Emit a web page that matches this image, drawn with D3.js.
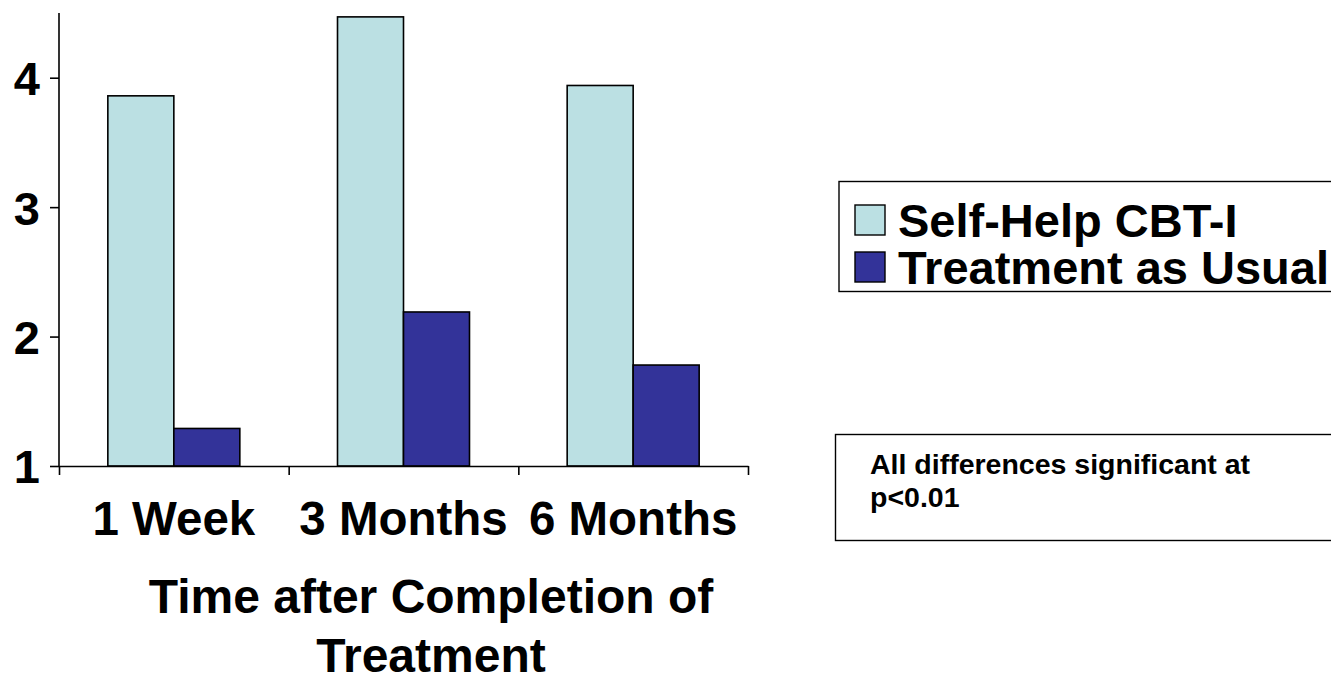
<!DOCTYPE html>
<html>
<head>
<meta charset="utf-8">
<script src="https://cdn.jsdelivr.net/npm/d3@7"></script>
<style>
  html, body { margin: 0; padding: 0; background: #fff; }
  svg { display: block; font-family: "Liberation Sans", Arial, sans-serif; font-weight: bold; }
</style>
</head>
<body>
<svg id="chart" width="1331" height="677"></svg>
<script>
// Follow-up time points and mean scores per group
const categories = ["1 Week", "3 Months", "6 Months"];
const seriesNames = ["Self-Help CBT-I", "Treatment as Usual"];
const selfHelpValues = [3.86, 4.47, 3.94];
const usualCareValues = [1.29, 2.19, 1.78];
const yTicks = [1, 2, 3, 4];
const seriesColors = ["#BBE0E3", "#333399"];
const axisTitleLines = ["Time after Completion of", "Treatment"];
const noteLines = ["All differences significant at", "p<0.01"];

const svg = d3.select("#chart");

const plot = { left: 59, right: 748, top: 13, bottom: 466 };

const y = d3.scaleLinear().domain([1, 4.5]).range([plot.bottom, plot.top]);

const x0 = d3.scaleBand()
  .domain(categories)
  .range([plot.left, plot.right])
  .paddingInner(0.4253)
  .paddingOuter(0.4253 / 2);

const x1 = d3.scaleBand()
  .domain(seriesNames)
  .range([0, x0.bandwidth()]);

// category boundaries for the x-axis tick marks
const xEdges = d3.scaleLinear().domain([0, categories.length]).range([plot.left, plot.right]);

const rows = categories.map((c, i) => ({
  category: c,
  values: [
    { name: seriesNames[0], value: selfHelpValues[i], color: seriesColors[0] },
    { name: seriesNames[1], value: usualCareValues[i], color: seriesColors[1] }
  ]
}));

// bars
const groups = svg.append("g").selectAll("g")
  .data(rows)
  .join("g")
  .attr("transform", d => `translate(${x0(d.category)},0)`);

groups.selectAll("rect")
  .data(d => d.values)
  .join("rect")
  .attr("x", d => x1(d.name))
  .attr("width", x1.bandwidth())
  .attr("y", d => y(d.value))
  .attr("height", d => y(1) - y(d.value))
  .attr("fill", d => d.color)
  .attr("stroke", "#000")
  .attr("stroke-width", 1.6);

// y axis
const yAxis = svg.append("g")
  .attr("transform", `translate(${plot.left},0)`)
  .call(d3.axisLeft(y).tickValues(yTicks).tickFormat(d3.format("d")).tickSize(9).tickPadding(10));
yAxis.select(".domain").attr("d", `M0,${plot.bottom}V${plot.top}`).attr("stroke", "#000").attr("stroke-width", 1.6);
yAxis.selectAll(".tick line").attr("stroke", "#000").attr("stroke-width", 1.6);
yAxis.selectAll(".tick text")
  .attr("font-size", 47)
  .attr("font-weight", "bold")
  .attr("font-family", "Liberation Sans, Arial, sans-serif")
  .attr("fill", "#000")
  .attr("dy", "0.36em");

// x axis: line with ticks at category boundaries
const xAxis = svg.append("g")
  .attr("transform", `translate(0,${plot.bottom})`)
  .call(d3.axisBottom(xEdges).tickValues(d3.range(categories.length + 1)).tickFormat("").tickSize(9).tickSizeOuter(0));
xAxis.select(".domain").attr("stroke", "#000").attr("stroke-width", 1.6);
xAxis.selectAll(".tick line").attr("stroke", "#000").attr("stroke-width", 1.6);

// category labels
svg.append("g").selectAll("text")
  .data(categories)
  .join("text")
  .attr("x", d => x0(d) + x0.bandwidth() / 2)
  .attr("y", 535)
  .attr("text-anchor", "middle")
  .attr("font-size", 47.5)
  .attr("fill", "#000")
  .text(d => d);

// axis title
svg.append("g").selectAll("text")
  .data(axisTitleLines)
  .join("text")
  .attr("x", 431)
  .attr("y", (d, i) => 613 + i * 59)
  .attr("text-anchor", "middle")
  .attr("font-size", 48)
  .attr("fill", "#000")
  .text(d => d);

// legend
const legend = svg.append("g");
legend.append("rect")
  .attr("x", 839).attr("y", 181.5)
  .attr("width", 520).attr("height", 110)
  .attr("fill", "#fff").attr("stroke", "#000").attr("stroke-width", 1.4);
const items = legend.selectAll("g.item")
  .data(seriesNames.map((n, i) => ({ name: n, color: seriesColors[i] })))
  .join("g")
  .attr("class", "item")
  .attr("transform", (d, i) => `translate(0,${i * 47})`);
items.append("rect")
  .attr("x", 855).attr("y", 205)
  .attr("width", 30).attr("height", 30)
  .attr("fill", d => d.color)
  .attr("stroke", "#000").attr("stroke-width", 1.4);
items.append("text")
  .attr("x", 898).attr("y", 237)
  .attr("font-size", 47)
  .attr("fill", "#000")
  .text(d => d.name);

// significance note
const note = svg.append("g");
note.append("rect")
  .attr("x", 835.5).attr("y", 434.5)
  .attr("width", 520).attr("height", 106)
  .attr("fill", "#fff").attr("stroke", "#000").attr("stroke-width", 1.4);
note.selectAll("text")
  .data(noteLines)
  .join("text")
  .attr("x", 870)
  .attr("y", (d, i) => 474 + i * 33)
  .attr("font-size", 28.5)
  .attr("fill", "#000")
  .text(d => d);
</script>
</body>
</html>
